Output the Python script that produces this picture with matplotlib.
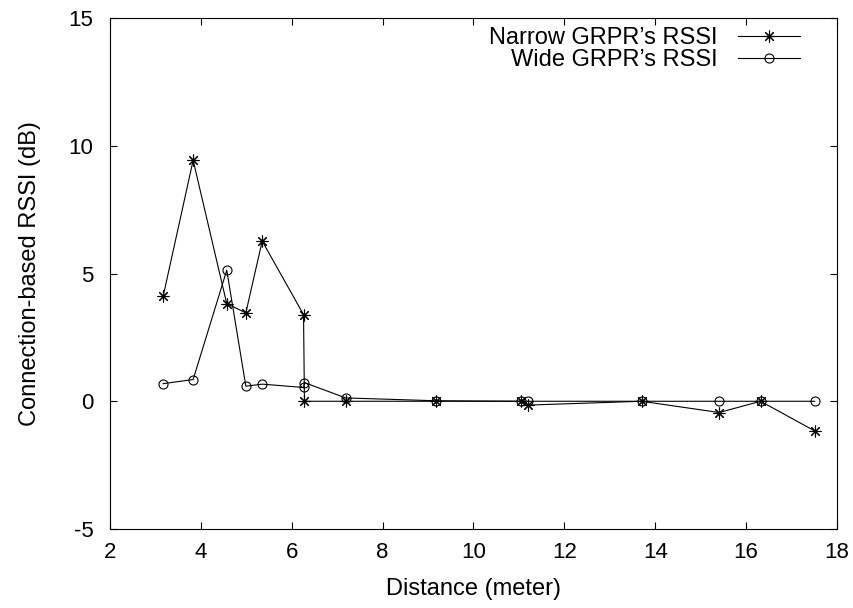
"""Connection-based RSSI vs distance for narrow and wide GRPR."""

import matplotlib
matplotlib.use("Agg")
import matplotlib.pyplot as plt

# data
distance = [3.17, 3.83, 4.57, 4.99, 5.35, 6.26, 6.28, 7.19, 9.17, 11.04, 11.2,
            13.7, 15.41, 16.32, 17.51]
narrow_rssi = [4.11, 9.43, 3.82, 3.46, 6.27, 3.39, 0.0, 0.0, 0.0, 0.0, -0.15,
               0.0, -0.44, 0.0, -1.16]
wide_rssi = [0.69, 0.85, 5.13, 0.59, 0.67, 0.54, 0.73, 0.13, 0.02, 0.0, 0.0,
             0.0, 0.0, 0.0, 0.0]

x_ticks = [2, 4, 6, 8, 10, 12, 14, 16, 18]
y_ticks = [-5, 0, 5, 10, 15]
y_tick_labels = ["-5", "0", "5", "10", "15"]

plt.rcParams["font.family"] = ["Liberation Sans", "DejaVu Sans"]
plt.rcParams["font.size"] = 17

fig = plt.figure(figsize=(8.54, 6.08), dpi=100)
ax = fig.add_axes([0.1288, 0.1299, 0.8512, 0.8405])

ax.plot(distance, narrow_rssi, color="black", linewidth=0.8,
        marker=(8, 2, 0), markersize=8.5, markeredgewidth=0.8,
        label="Narrow GRPR\u2019s RSSI")
ax.plot(distance, wide_rssi, color="black", linewidth=0.8,
        marker="o", markersize=6.5, markerfacecolor="none",
        markeredgewidth=0.8, label="Wide GRPR\u2019s RSSI")

ax.set_xlim(2, 18)
ax.set_ylim(-5, 15)
ax.set_xticks(x_ticks)
ax.set_yticks(y_ticks)
ax.set_yticklabels(y_tick_labels)
ax.tick_params(direction="in", top=True, right=True, length=5, width=0.8,
               labelsize=16)
ax.tick_params(axis="x", pad=9)
ax.tick_params(axis="y", pad=12)
for spine in ax.spines.values():
    spine.set_linewidth(0.8)

ax.set_xlabel("Distance (meter)", labelpad=11)
ax.set_ylabel("Connection-based RSSI (dB)", labelpad=20)

ax.legend(loc="upper right", frameon=False, markerfirst=False,
          handlelength=2.6, handletextpad=0.9, borderaxespad=0.0,
          labelspacing=0.0, bbox_to_anchor=(0.962, 1.0))

fig.savefig("out.png", dpi=100)
